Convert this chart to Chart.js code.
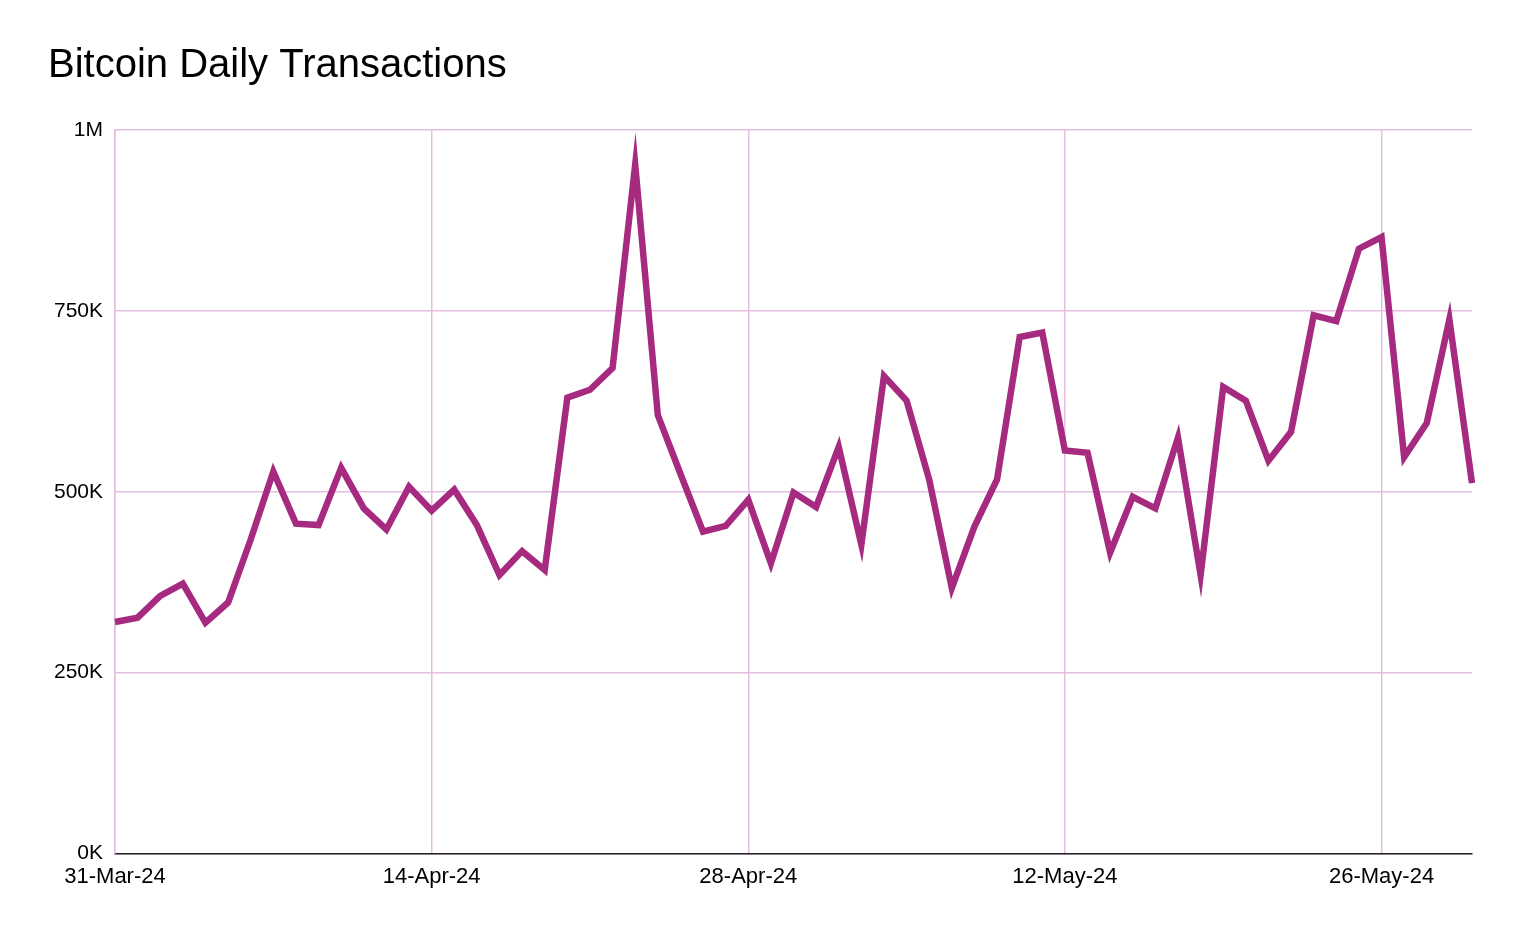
<!DOCTYPE html>
<html><head><meta charset="utf-8">
<script src="https://cdn.jsdelivr.net/npm/chart.js@4.4.1/dist/chart.umd.min.js"></script>
<style>html,body{margin:0;padding:0;background:#fff}#w{width:1520px;height:938px}</style>
</head><body><div id="w"><canvas id="c"></canvas></div>
<script>
const startDate = "2024-03-31";
const dayCount = 61;
const tickEvery = 14;
const transactions = [320000,326000,356000,373000,319000,347000,434000,528000,456000,454000,
533000,477000,448000,507000,474000,503000,454000,385000,418000,392000,
630000,641000,671000,952000,606000,525000,445000,453000,489000,401000,
499000,479000,562000,427000,660000,626000,517000,367000,452000,517000,
714000,720000,557000,554000,416000,493000,477000,575000,385000,645000,
626000,543000,583000,744000,736000,836000,852000,548000,595000,738000,512000];
const yTicks = [0,250000,500000,750000,1000000];
const yTickLabels = ["0K","250K","500K","750K","1M"];
const months = ["Jan","Feb","Mar","Apr","May","Jun","Jul","Aug","Sep","Oct","Nov","Dec"];
const categories = [];
for (let i=0;i<dayCount;i++){const d=new Date(startDate+"T00:00:00Z");d.setUTCDate(d.getUTCDate()+i);
 categories.push(d.getUTCDate()+"-"+months[d.getUTCMonth()]+"-"+String(d.getUTCFullYear()).slice(2));}
const font="'Liberation Sans', Arial, sans-serif";
const grid='#e4bde0';
new Chart(document.getElementById('c'),{
 type:'line',
 data:{labels:categories,datasets:[{data:transactions,borderColor:'#a62a7f',borderWidth:6.5,pointRadius:0,tension:0,fill:false}]},
 options:{responsive:true,maintainAspectRatio:false,animation:false,
  layout:{padding:{left:48,right:48,top:0,bottom:38}},
  plugins:{legend:{display:false},tooltip:{enabled:false},
   title:{display:true,text:'Bitcoin Daily Transactions',align:'start',color:'#000',font:{family:font,size:40,weight:'normal'},padding:{top:42,bottom:40}}},
  scales:{
   x:{offset:false,grid:{color:grid,lineWidth:1.5,drawTicks:false},border:{color:'#222',width:1.5},
    ticks:{autoSkip:false,maxRotation:0,color:'#000',font:{family:font,size:22},padding:10,
     callback:(v,i)=> i%tickEvery===0?categories[i]:null}},
   y:{min:0,max:1000000,grid:{color:grid,lineWidth:1.5,drawTicks:false},border:{color:grid,width:1.5},
    afterFit:s=>{s.width=67;},
    afterBuildTicks:s=>{s.ticks=yTicks.map(v=>({value:v}));},
    ticks:{color:'#000',font:{family:font,size:21},padding:12,
     callback:v=>yTickLabels[yTicks.indexOf(v)]}}
  }}
});
</script></body></html>
